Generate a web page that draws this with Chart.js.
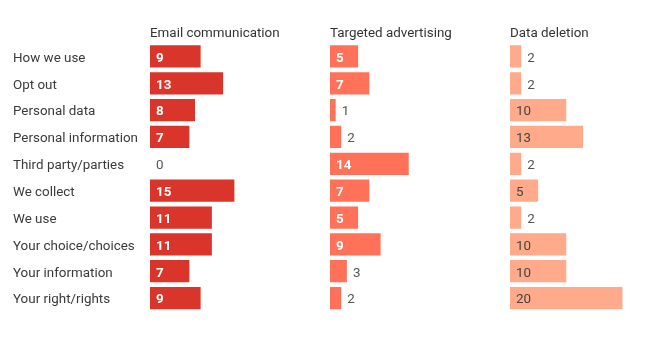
<!DOCTYPE html>
<html><head><meta charset="utf-8">
<script src="https://cdn.jsdelivr.net/npm/chart.js@4/dist/chart.umd.min.js"></script>
<style>
html,body{margin:0;padding:0;background:#fff;}
#wrap{position:relative;width:650px;height:350px;overflow:hidden;}
canvas{position:absolute;top:0;}
</style></head>
<body><div id="wrap">
<canvas id="c1" style="left:0" width="330" height="350"></canvas>
<canvas id="c2" style="left:330px" width="180" height="350"></canvas>
<canvas id="c3" style="left:510px" width="140" height="350"></canvas>
</div>
<script>
const categories = ["How we use","Opt out","Personal data","Personal information","Third party/parties","We collect","We use","Your choice/choices","Your information","Your right/rights"];
const seriesNames = ["Email communication","Targeted advertising","Data deletion"];
const emailValues = [9,13,8,7,0,15,11,11,7,9];
const advertisingValues = [5,7,1,2,14,7,5,9,3,2];
const deletionValues = [2,2,10,13,2,5,2,10,10,20];

const FONT = "Roboto, 'Noto Sans', sans-serif";
const FS = 13.4;
const SCALE_MAX = 32; // units per 180px

const labelPlugin = {
  id:'valueLabels',
  afterDatasetsDraw(chart, args, opts){
    const ctx = chart.ctx;
    const meta = chart.getDatasetMeta(0);
    const data = chart.data.datasets[0].data;
    ctx.save();
    ctx.textBaseline = 'middle';
    ctx.textAlign = 'left';
    meta.data.forEach((bar, i) => {
      const v = data[i];
      const inside = v >= 4;
      if (inside) {
        ctx.fillStyle = opts.insideColor;
        ctx.font = (opts.insideBold ? 'bold ' : '') + FS + 'px ' + FONT;
        ctx.fillText(String(v), bar.base + 6, bar.y + 2);
      } else {
        ctx.fillStyle = '#555';
        ctx.font = FS + 'px ' + FONT;
        ctx.fillText(String(v), bar.x + 6, bar.y + 2);
      }
    });
    ctx.fillStyle = '#333';
    ctx.font = FS + 'px ' + FONT;
    ctx.textBaseline = 'alphabetic';
    ctx.fillText(opts.title, chart.chartArea.left, 37);
    ctx.restore();
  }
};

function makeChart(id, values, color, title, showLabels, xMax, insideColor, insideBold){
  return new Chart(document.getElementById(id), {
    type:'bar',
    data:{labels:categories, datasets:[{data:values, backgroundColor:color, borderWidth:0, barPercentage:0.83, categoryPercentage:1}]},
    options:{
      indexAxis:'y', responsive:false, animation:false,
      layout:{padding:{top:43, bottom:38.5, left:showLabels?13:0, right:0}},
      plugins:{legend:{display:false}, tooltip:{enabled:false}, title:{display:false},
        valueLabels:{title:title, insideColor:insideColor, insideBold:insideBold}},
      scales:{
        x:{min:0, max:xMax, display:false},
        y:{display:showLabels, grid:{display:false, drawTicks:false}, border:{display:false},
           afterFit(s){ if(showLabels) s.width = 137; },
           ticks:{color:'#3a3a3a', font:{family:FONT,size:FS}, crossAlign:'far', padding:0, labelOffset:2}}
      }
    },
    plugins:[labelPlugin]
  });
}
makeChart('c1', emailValues, 'rgb(217,53,42)', seriesNames[0], true, SCALE_MAX, '#fff', true);
makeChart('c2', advertisingValues, 'rgb(255,113,88)', seriesNames[1], false, SCALE_MAX, '#fff', true);
makeChart('c3', deletionValues, 'rgb(255,170,138)', seriesNames[2], false, SCALE_MAX*140/180, '#444', false);
</script></body></html>
